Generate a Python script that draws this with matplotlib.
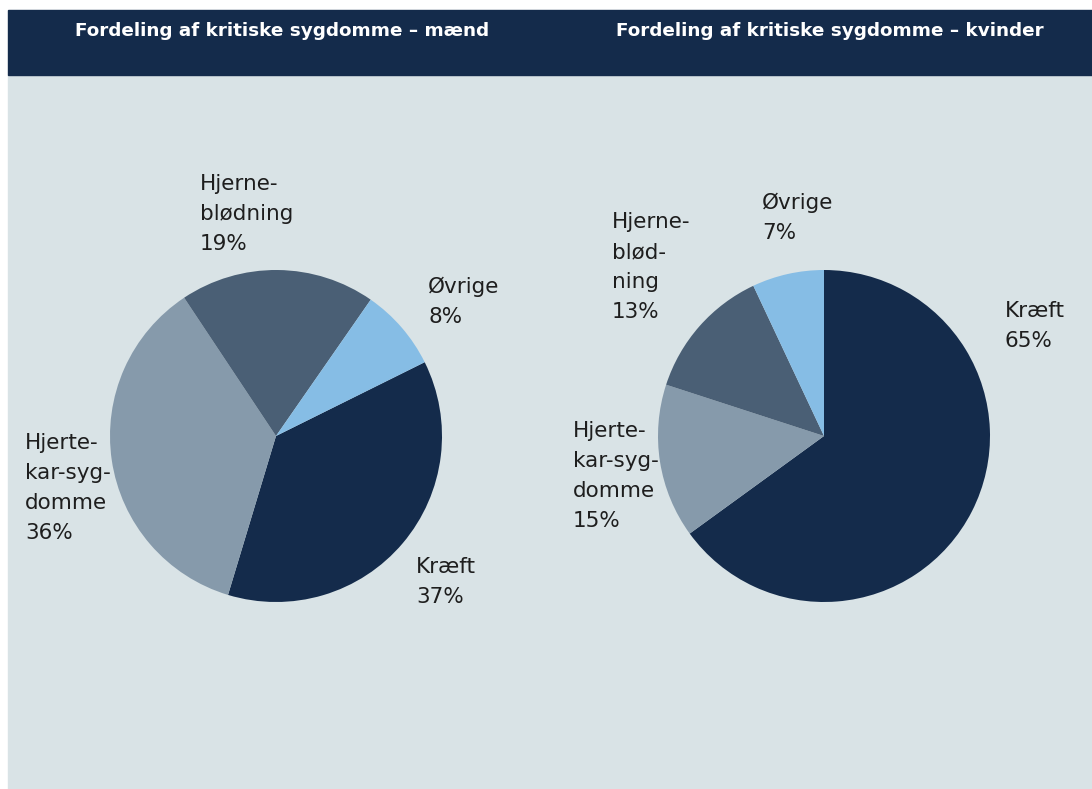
import matplotlib.pyplot as plt
from matplotlib.patches import Rectangle

# data
kategorier = ['Kræft', 'Hjerte-kar-sygdomme', 'Hjerneblødning', 'Øvrige']
maend = [37, 36, 19, 8]
kvinder = [65, 15, 13, 7]

etiketter_maend = ['Kræft', 'Hjerte-\nkar-syg-\ndomme', 'Hjerne-\nblødning', 'Øvrige']
etiketter_kvinder = ['Kræft', 'Hjerte-\nkar-syg-\ndomme', 'Hjerne-\nblød-\nning', 'Øvrige']

titler = ['Fordeling af kritiske sygdomme – mænd', 'Fordeling af kritiske sygdomme – kvinder']

farver = ['#142b4b', '#869aab', '#4a5f75', '#86bde5']
navy = '#142b4b'
baggrund = '#d9e3e6'

W, H = 1092, 789
fig = plt.figure(figsize=(W / 100, H / 100), dpi=100)
ax = fig.add_axes([0, 0, 1, 1])

# baggrund og titelbjælke (pixel-koordinater, y opad)
ax.add_patch(Rectangle((8, 0), W - 8, H - 75, color=baggrund, zorder=0))
ax.add_patch(Rectangle((8, H - 75), W - 8, 65, color=navy, zorder=0))

# tærter
ax.pie(maend, colors=farver, startangle=26.4, counterclock=False,
       center=(276, H - 436), radius=166, wedgeprops=dict(linewidth=0))
ax.pie(kvinder, colors=farver, startangle=90, counterclock=False,
       center=(824, H - 436), radius=166, wedgeprops=dict(linewidth=0))

ax.set_xlim(0, W)
ax.set_ylim(0, H)
ax.set_aspect('equal')
ax.axis('off')

# titler
ax.text(282, H - 31, titler[0], color='white', fontsize=13.2, fontweight='bold',
        ha='center', va='center')
ax.text(830, H - 31, titler[1], color='white', fontsize=13.2, fontweight='bold',
        ha='center', va='center')

# etiketter: (x, top)
pos_maend = [(416, 557), (25, 433), (200, 174), (428, 277)]
pos_kvinder = [(1005, 301), (573, 421), (612, 212), (762, 193)]

tekst = '#1e1e1e'
for lab, v, (x, y) in zip(etiketter_maend, maend, pos_maend):
    ax.text(x, H - y, f'{lab}\n{v}%', fontsize=15.5, color=tekst,
            ha='left', va='top', linespacing=1.62)
for lab, v, (x, y) in zip(etiketter_kvinder, kvinder, pos_kvinder):
    ax.text(x, H - y, f'{lab}\n{v}%', fontsize=15.5, color=tekst,
            ha='left', va='top', linespacing=1.62)

fig.savefig('out.png', dpi=100, facecolor='white')
